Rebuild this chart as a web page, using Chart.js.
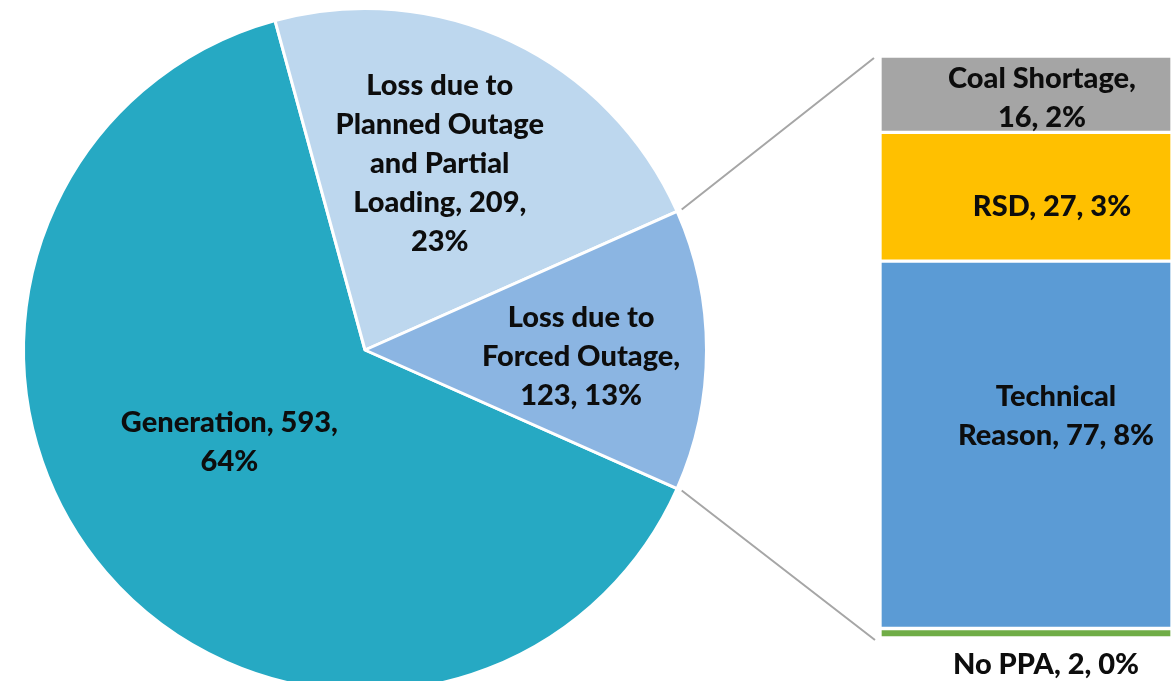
<!DOCTYPE html>
<html>
<head>
<meta charset="utf-8">
<script src="https://cdn.jsdelivr.net/npm/chart.js@4.4.1/dist/chart.umd.min.js"></script>
<style>
  html, body { margin: 0; padding: 0; background: #fff; overflow: hidden; }
  canvas { position: absolute; left: 0; top: 0; }
</style>
</head>
<body>
<canvas id="pieChart" width="1175" height="700"></canvas>
<canvas id="barChart" width="1175" height="700"></canvas>
<script>
// pie: total availability split
const pieCategories = ['Generation', 'Loss due to Planned Outage and Partial Loading', 'Loss due to Forced Outage'];
const pieValues = [593, 209, 123];
const pieLabelLines = [
    ['Generation, 593,', '64%'],
    ['Loss due to', 'Planned Outage', 'and Partial', 'Loading, 209,', '23%'],
    ['Loss due to', 'Forced Outage,', '123, 13%']
];

// bar: breakdown of forced outage (bottom to top)
const barCategories = ['No PPA', 'Technical Reason', 'RSD', 'Coal Shortage'];
const barValues = [2, 77, 27, 16];
const barLabelLines = [
    ['No PPA, 2, 0%'],
    ['Technical', 'Reason, 77, 8%'],
    ['RSD, 27, 3%'],
    ['Coal Shortage,', '16, 2%']
];

const pieColors = ['#26A9C3', '#BDD7EE', '#8BB5E2'];
const barColors = ['#70AD47', '#5B9BD5', '#FFC000', '#A5A5A5'];
const labelFont = '900 29px Lato, "Open Sans", sans-serif';
const lineH = 39;

// label placement: fraction of radius + angle nudge (deg)
const pieLabelPos = [{ f: 0.48, da: 6.5 }, { f: 0.587, da: -3.5 }, { f: 0.633, da: 1.8 }];
const barLabelPos = [{ dx: 20, dy: 27, below: true }, { dx: 30, dy: -29 }, { dx: 26, dy: 10 }, { dx: 16, dy: 4 }];

function drawLines(ctx, lines, cx, cy) {
    ctx.save();
    ctx.font = labelFont;
    ctx.fillStyle = '#0d0d0d';
    ctx.textAlign = 'center';
    ctx.textBaseline = 'middle';
    const top = cy - (lines.length - 1) * lineH / 2;
    lines.forEach((t, i) => ctx.fillText(t, cx, top + i * lineH));
    ctx.restore();
}

const pieLabels = {
    id: 'pieLabels',
    afterDatasetsDraw(chart) {
        const ctx = chart.ctx;
        chart.getDatasetMeta(0).data.forEach((arc, i) => {
            const p = arc.getProps(['x', 'y', 'startAngle', 'endAngle', 'outerRadius'], true);
            const a = (p.startAngle + p.endAngle) / 2 + pieLabelPos[i].da * Math.PI / 180;
            const r = p.outerRadius * pieLabelPos[i].f;
            drawLines(ctx, pieLabelLines[i], p.x + Math.cos(a) * r, p.y + Math.sin(a) * r);
        });
    }
};

const total = pieValues.reduce((a, b) => a + b, 0);
// forced outage slice centred on the right-hand horizontal
const rotation = 90 - (pieValues[2] / total * 180) - (pieValues[0] + pieValues[1]) / total * 360;

const pieChart = new Chart(document.getElementById('pieChart'), {
    type: 'pie',
    data: {
        labels: pieCategories,
        datasets: [{ data: pieValues, backgroundColor: pieColors, borderColor: '#fff', borderWidth: 3 }]
    },
    options: {
        responsive: false, animation: false, rotation: rotation,
        layout: { padding: { left: 22, right: 467, top: 7, bottom: 7 } },
        plugins: { legend: { display: false }, tooltip: { enabled: false } }
    },
    plugins: [pieLabels]
});

const barExtras = {
    id: 'barExtras',
    afterDatasetsDraw(chart) {
        const ctx = chart.ctx;
        // labels
        chart.data.datasets.forEach((ds, i) => {
            const bar = chart.getDatasetMeta(i).data[0];
            const p = bar.getProps(['x', 'y', 'base'], true);
            const pos = barLabelPos[i];
            const cy = pos.below ? Math.max(p.y, p.base) + pos.dy : (p.y + p.base) / 2 + pos.dy;
            drawLines(ctx, barLabelLines[i], p.x + pos.dx, cy);
        });
        // connector lines from pie to bar
        const arc = pieChart.getDatasetMeta(0).data[2].getProps(['x', 'y', 'startAngle', 'endAngle', 'outerRadius'], true);
        const topBar = chart.getDatasetMeta(chart.data.datasets.length - 1).data[0].getProps(['x', 'y', 'width'], true);
        const botBar = chart.getDatasetMeta(0).data[0].getProps(['x', 'base', 'width'], true);
        const R = arc.outerRadius + 5;
        ctx.save();
        ctx.strokeStyle = '#A6A6A6';
        ctx.lineWidth = 2;
        ctx.beginPath();
        ctx.moveTo(arc.x + Math.cos(arc.startAngle) * R, arc.y + Math.sin(arc.startAngle) * R);
        ctx.lineTo(topBar.x - topBar.width / 2 - 6, topBar.y + 2);
        ctx.moveTo(arc.x + Math.cos(arc.endAngle) * R, arc.y + Math.sin(arc.endAngle) * R);
        ctx.lineTo(botBar.x - botBar.width / 2 - 5, botBar.base + 2);
        ctx.stroke();
        ctx.restore();
    }
};

new Chart(document.getElementById('barChart'), {
    type: 'bar',
    data: {
        labels: ['Forced Outage'],
        datasets: barCategories.map((c, i) => ({
            label: c, data: [barValues[i]], backgroundColor: barColors[i],
            borderColor: '#fff', borderWidth: 2, borderSkipped: false,
            categoryPercentage: 1, barPercentage: 1
        }))
    },
    options: {
        responsive: false, animation: false,
        layout: { padding: { left: 880, right: 3, top: 56, bottom: 62 } },
        scales: {
            x: { stacked: true, display: false },
            y: { stacked: true, display: false, min: 0, max: barValues.reduce((a, b) => a + b, 0) }
        },
        plugins: { legend: { display: false }, tooltip: { enabled: false } }
    },
    plugins: [barExtras]
});
</script>
</body>
</html>
